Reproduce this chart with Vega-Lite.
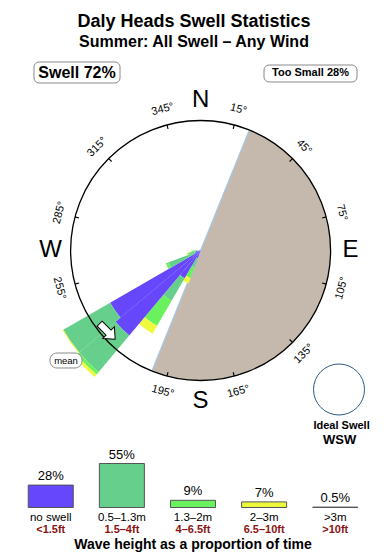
{
  "$schema": "https://vega.github.io/schema/vega-lite/v6.json",
  "padding": 0,
  "background": "white",
  "bounds": "flush",
  "spacing": 0,
  "config": {"view": {"stroke": null}, "font": "Liberation Sans", "axis": {"disable": true}},
  "vconcat": [
    {
      "width": 390,
      "height": 455,
      "layer": [
        {
          "data": {"values": [{"zone": "land shadow", "from": 22, "to": 202}]},
          "mark": {"type": "arc", "color": "#c5b9ad"},
          "encoding": {
            "x": {"datum": 0, "type": "quantitative", "scale": {"domain": [-1.5431, 1.4569], "nice": false, "zero": false}, "axis": null},
            "y": {"datum": 0, "type": "quantitative", "scale": {"domain": [-1.5731, 1.9269], "nice": false, "zero": false}, "axis": null},
            "theta": {"field": "from", "type": "quantitative", "scale": {"domain": [0, 360], "range": [0, 6.283185307]}, "stack": null},
            "theta2": {"field": "to"},
            "radius": {"datum": 25, "type": "quantitative", "scale": {"type": "linear", "domain": [0, 25], "range": [0, 130], "zero": true}},
            "radius2": {"datum": 0}
          }
        },
        {
          "data": {"values": [{}]},
          "mark": {"type": "rule", "color": "#a5c8ea", "strokeWidth": 1.2},
          "encoding": {
            "x": {"datum": 0.3746, "type": "quantitative", "scale": {"domain": [-1.5431, 1.4569], "nice": false, "zero": false}},
            "y": {"datum": 0.9272, "type": "quantitative", "scale": {"domain": [-1.5731, 1.9269], "nice": false, "zero": false}},
            "x2": {"datum": -0.3746},
            "y2": {"datum": -0.9272}
          }
        },
        {
          "data": {"values": [
            {"from": 200, "to": 210, "band": "no swell", "inner": 0, "outer": 1.54},
            {"from": 200, "to": 210, "band": "0.5–1.3m", "inner": 1.54, "outer": 3.46},
            {"from": 200, "to": 210, "band": "1.3–2m", "inner": 3.46, "outer": 5.58},
            {"from": 200, "to": 210, "band": "2–3m", "inner": 5.58, "outer": 6.73},
            {"from": 210, "to": 220, "band": "no swell", "inner": 0, "outer": 6.15},
            {"from": 210, "to": 220, "band": "0.5–1.3m", "inner": 6.15, "outer": 11.15},
            {"from": 210, "to": 220, "band": "1.3–2m", "inner": 11.15, "outer": 16.73},
            {"from": 210, "to": 220, "band": "2–3m", "inner": 16.73, "outer": 18.46},
            {"from": 220, "to": 230, "band": "no swell", "inner": 0, "outer": 21.35},
            {"from": 220, "to": 230, "band": "0.5–1.3m", "inner": 21.35, "outer": 30.48},
            {"from": 220, "to": 230, "band": "1.3–2m", "inner": 30.48, "outer": 31.15},
            {"from": 220, "to": 230, "band": "2–3m", "inner": 31.15, "outer": 31.73},
            {"from": 230, "to": 240, "band": "no swell", "inner": 0, "outer": 20.1},
            {"from": 230, "to": 240, "band": "0.5–1.3m", "inner": 20.1, "outer": 30.48},
            {"from": 230, "to": 240, "band": "2–3m", "inner": 30.48, "outer": 30.67},
            {"from": 240, "to": 250, "band": "no swell", "inner": 0, "outer": 1.15},
            {"from": 240, "to": 250, "band": "0.5–1.3m", "inner": 1.15, "outer": 6.54},
            {"from": 240, "to": 250, "band": "1.3–2m", "inner": 6.54, "outer": 7.12},
            {"from": 250, "to": 260, "band": "no swell", "inner": 0, "outer": 0.96},
            {"from": 250, "to": 260, "band": "0.5–1.3m", "inner": 0.96, "outer": 2.12},
            {"from": 250, "to": 260, "band": "1.3–2m", "inner": 2.12, "outer": 2.5},
            {"from": 250, "to": 260, "band": "2–3m", "inner": 2.5, "outer": 2.69},
            {"from": 260, "to": 270, "band": "0.5–1.3m", "inner": 0, "outer": 1.35},
            {"from": 260, "to": 270, "band": "1.3–2m", "inner": 1.35, "outer": 1.73},
            {"from": 260, "to": 270, "band": "2–3m", "inner": 1.73, "outer": 1.92}
          ]},
          "mark": {"type": "arc"},
          "encoding": {
            "x": {"datum": 0, "type": "quantitative", "scale": {"domain": [-1.5431, 1.4569], "nice": false, "zero": false}},
            "y": {"datum": 0, "type": "quantitative", "scale": {"domain": [-1.5731, 1.9269], "nice": false, "zero": false}},
            "theta": {"field": "from", "type": "quantitative", "scale": {"domain": [0, 360], "range": [0, 6.283185307]}, "stack": null},
            "theta2": {"field": "to"},
            "radius": {"field": "outer", "type": "quantitative", "scale": {"type": "linear", "domain": [0, 25], "range": [0, 130], "zero": true}, "stack": null},
            "radius2": {"field": "inner"},
            "color": {"field": "band", "type": "nominal", "scale": {"domain": ["no swell", "0.5–1.3m", "1.3–2m", "2–3m", ">3m"], "range": ["#6647fb", "#66cf8c", "#6af25e", "#eef83c", "#c9b2a6"]}, "legend": null}
          }
        },
        {
          "data": {"values": [{}]},
          "mark": {"type": "point", "shape": "circle", "filled": false, "color": "black", "strokeWidth": 1.3, "size": 67600, "opacity": 1},
          "encoding": {
            "x": {"datum": 0, "type": "quantitative", "scale": {"domain": [-1.5431, 1.4569], "nice": false, "zero": false}},
            "y": {"datum": 0, "type": "quantitative", "scale": {"domain": [-1.5731, 1.9269], "nice": false, "zero": false}}
          }
        },
        {
          "data": {"values": [
            {"deg": 15, "label": "15°"}, {"deg": 45, "label": "45°"}, {"deg": 75, "label": "75°"},
            {"deg": 105, "label": "105°"}, {"deg": 135, "label": "135°"}, {"deg": 165, "label": "165°"},
            {"deg": 195, "label": "195°"}, {"deg": 255, "label": "255°"}, {"deg": 285, "label": "285°"},
            {"deg": 315, "label": "315°"}, {"deg": 345, "label": "345°"}
          ]},
          "layer": [
            {
              "mark": {"type": "arc", "color": "black", "thetaOffset": -0.0045, "theta2Offset": 0.0045},
              "encoding": {
                "x": {"datum": 0, "type": "quantitative", "scale": {"domain": [-1.5431, 1.4569], "nice": false, "zero": false}},
                "y": {"datum": 0, "type": "quantitative", "scale": {"domain": [-1.5731, 1.9269], "nice": false, "zero": false}},
                "theta": {"field": "deg", "type": "quantitative", "scale": {"domain": [0, 360], "range": [0, 6.283185307]}, "stack": null},
                "theta2": {"field": "deg"},
                "radius": {"datum": 25, "type": "quantitative", "scale": {"type": "linear", "domain": [0, 25], "range": [0, 130], "zero": true}},
                "radius2": {"datum": 24.2}
              }
            },
            {
              "mark": {"type": "text", "fontSize": 11, "align": "center", "baseline": "middle", "color": "black"},
              "encoding": {
                "x": {"datum": 0, "type": "quantitative", "scale": {"domain": [-1.5431, 1.4569], "nice": false, "zero": false}},
                "y": {"datum": 0, "type": "quantitative", "scale": {"domain": [-1.5731, 1.9269], "nice": false, "zero": false}},
                "theta": {"field": "deg", "type": "quantitative", "scale": {"domain": [0, 360], "range": [0, 6.283185307]}, "stack": null},
                "radius": {"datum": 28.1, "type": "quantitative", "scale": {"type": "linear", "domain": [0, 25], "range": [0, 130], "zero": true}},
                "angle": {"field": "deg", "type": "quantitative", "scale": {"domain": [0, 90, 90.01, 270, 270.01, 360], "range": [0, 90, -90, 90, -90, 0]}, "legend": null},
                "text": {"field": "label"}
              }
            }
          ]
        },
        {
          "data": {"values": [{"deg": 0, "c": "N"}, {"deg": 90, "c": "E"}, {"deg": 180, "c": "S"}, {"deg": 270, "c": "W"}]},
          "mark": {"type": "text", "fontSize": 24, "align": "center", "baseline": "middle", "color": "black"},
          "encoding": {
            "x": {"datum": 0, "type": "quantitative", "scale": {"domain": [-1.5431, 1.4569], "nice": false, "zero": false}},
            "y": {"datum": 0, "type": "quantitative", "scale": {"domain": [-1.5731, 1.9269], "nice": false, "zero": false}},
            "theta": {"field": "deg", "type": "quantitative", "scale": {"domain": [0, 360], "range": [0, 6.283185307]}, "stack": null},
            "radius": {"datum": 28.85, "type": "quantitative", "scale": {"type": "linear", "domain": [0, 25], "range": [0, 130], "zero": true}},
            "text": {"field": "c"}
          }
        },
        {
          "data": {"values": [{"what": "mean direction"}]},
          "mark": {"type": "point", "shape": "M-1,-0.32L0.15,-0.32L0.15,-0.75L1,0L0.15,0.75L0.15,0.32L-1,0.32Z", "filled": true, "fill": "white", "stroke": "black", "strokeWidth": 1, "size": 484, "angle": 45, "opacity": 1},
          "encoding": {
            "x": {"datum": -0.717, "type": "quantitative", "scale": {"domain": [-1.5431, 1.4569], "nice": false, "zero": false}},
            "y": {"datum": -0.623, "type": "quantitative", "scale": {"domain": [-1.5731, 1.9269], "nice": false, "zero": false}}
          }
        },
        {
          "data": {"values": [{"t": "mean"}]},
          "layer": [
            {
              "mark": {"type": "rect", "fill": "white", "stroke": "#8a8a8a", "strokeWidth": 1, "cornerRadius": 7},
              "encoding": {
                "x": {"datum": -1.1585, "type": "quantitative", "scale": {"domain": [-1.5431, 1.4569], "nice": false, "zero": false}},
                "x2": {"datum": -0.9123},
                "y": {"datum": -0.7885, "type": "quantitative", "scale": {"domain": [-1.5731, 1.9269], "nice": false, "zero": false}},
                "y2": {"datum": -0.9038}
              }
            },
            {
              "mark": {"type": "text", "fontSize": 9.5, "align": "center", "baseline": "middle", "color": "black"},
              "encoding": {
                "x": {"datum": -1.0354, "type": "quantitative", "scale": {"domain": [-1.5431, 1.4569], "nice": false, "zero": false}},
                "y": {"datum": -0.8462, "type": "quantitative", "scale": {"domain": [-1.5731, 1.9269], "nice": false, "zero": false}},
                "text": {"field": "t"}
              }
            }
          ]
        },
        {
          "data": {"values": [{"t": "Swell 72%"}]},
          "layer": [
            {
              "mark": {"type": "rect", "fill": "white", "stroke": "#8a8a8a", "strokeWidth": 1, "cornerRadius": 5},
              "encoding": {
                "x": {"datum": -1.2815, "type": "quantitative", "scale": {"domain": [-1.5431, 1.4569], "nice": false, "zero": false}},
                "x2": {"datum": -0.62},
                "y": {"datum": 1.45, "type": "quantitative", "scale": {"domain": [-1.5731, 1.9269], "nice": false, "zero": false}},
                "y2": {"datum": 1.2885}
              }
            },
            {
              "mark": {"type": "text", "fontSize": 16, "fontWeight": "bold", "align": "center", "baseline": "middle", "color": "black"},
              "encoding": {
                "x": {"datum": -0.9508, "type": "quantitative", "scale": {"domain": [-1.5431, 1.4569], "nice": false, "zero": false}},
                "y": {"datum": 1.3654, "type": "quantitative", "scale": {"domain": [-1.5731, 1.9269], "nice": false, "zero": false}},
                "text": {"field": "t"}
              }
            }
          ]
        },
        {
          "data": {"values": [{"t": "Too Small 28%"}]},
          "layer": [
            {
              "mark": {"type": "rect", "fill": "white", "stroke": "#8a8a8a", "strokeWidth": 1, "cornerRadius": 5},
              "encoding": {
                "x": {"datum": 0.4877, "type": "quantitative", "scale": {"domain": [-1.5431, 1.4569], "nice": false, "zero": false}},
                "x2": {"datum": 1.2031},
                "y": {"datum": 1.4269, "type": "quantitative", "scale": {"domain": [-1.5731, 1.9269], "nice": false, "zero": false}},
                "y2": {"datum": 1.2962}
              }
            },
            {
              "mark": {"type": "text", "fontSize": 11, "fontWeight": "bold", "align": "center", "baseline": "middle", "color": "black"},
              "encoding": {
                "x": {"datum": 0.8454, "type": "quantitative", "scale": {"domain": [-1.5431, 1.4569], "nice": false, "zero": false}},
                "y": {"datum": 1.3654, "type": "quantitative", "scale": {"domain": [-1.5731, 1.9269], "nice": false, "zero": false}},
                "text": {"field": "t"}
              }
            }
          ]
        },
        {
          "data": {"values": [{"t": "Daly Heads Swell Statistics"}]},
          "mark": {"type": "text", "fontSize": 18, "fontWeight": "bold", "align": "center", "baseline": "alphabetic", "color": "black"},
          "encoding": {
            "x": {"datum": -0.0508, "type": "quantitative", "scale": {"domain": [-1.5431, 1.4569], "nice": false, "zero": false}},
            "y": {"datum": 1.7215, "type": "quantitative", "scale": {"domain": [-1.5731, 1.9269], "nice": false, "zero": false}},
            "text": {"field": "t"}
          }
        },
        {
          "data": {"values": [{"t": "Summer: All Swell – Any Wind"}]},
          "mark": {"type": "text", "fontSize": 16, "fontWeight": "bold", "align": "center", "baseline": "alphabetic", "color": "black"},
          "encoding": {
            "x": {"datum": -0.0508, "type": "quantitative", "scale": {"domain": [-1.5431, 1.4569], "nice": false, "zero": false}},
            "y": {"datum": 1.5677, "type": "quantitative", "scale": {"domain": [-1.5731, 1.9269], "nice": false, "zero": false}},
            "text": {"field": "t"}
          }
        },
        {
          "data": {"values": [{"ideal": "WSW"}]},
          "layer": [
            {
              "mark": {"type": "point", "shape": "circle", "filled": false, "color": "#2e5a88", "strokeWidth": 1, "size": 2601, "opacity": 1},
              "encoding": {
                "x": {"datum": 1.0646, "type": "quantitative", "scale": {"domain": [-1.5431, 1.4569], "nice": false, "zero": false}},
                "y": {"datum": -1.0692, "type": "quantitative", "scale": {"domain": [-1.5731, 1.9269], "nice": false, "zero": false}}
              }
            },
            {
              "mark": {"type": "text", "text": "Ideal Swell", "fontSize": 11, "fontWeight": "bold", "align": "center", "baseline": "alphabetic", "color": "black"},
              "encoding": {
                "x": {"datum": 1.0846, "type": "quantitative", "scale": {"domain": [-1.5431, 1.4569], "nice": false, "zero": false}},
                "y": {"datum": -1.3731, "type": "quantitative", "scale": {"domain": [-1.5731, 1.9269], "nice": false, "zero": false}}
              }
            },
            {
              "mark": {"type": "text", "fontSize": 13, "fontWeight": "bold", "align": "center", "baseline": "alphabetic", "color": "black"},
              "encoding": {
                "x": {"datum": 1.0692, "type": "quantitative", "scale": {"domain": [-1.5431, 1.4569], "nice": false, "zero": false}},
                "y": {"datum": -1.4885, "type": "quantitative", "scale": {"domain": [-1.5731, 1.9269], "nice": false, "zero": false}},
                "text": {"field": "ideal"}
              }
            }
          ]
        }
      ]
    },
    {
      "width": 386,
      "height": 105,
      "data": {"values": [
        {"cat": "no swell", "feet": "<1.5ft", "pct": 28, "pctLabel": "28%"},
        {"cat": "0.5–1.3m", "feet": "1.5–4ft", "pct": 55, "pctLabel": "55%"},
        {"cat": "1.3–2m", "feet": "4–6.5ft", "pct": 9, "pctLabel": "9%"},
        {"cat": "2–3m", "feet": "6.5–10ft", "pct": 7, "pctLabel": "7%"},
        {"cat": ">3m", "feet": ">10ft", "pct": 0.5, "pctLabel": "0.5%"}
      ]},
      "encoding": {
        "x": {"field": "cat", "type": "nominal", "sort": null, "scale": {"paddingInner": 0.367, "paddingOuter": 0.397}, "axis": null}
      },
      "layer": [
        {
          "mark": {"type": "bar", "stroke": "#555555", "strokeWidth": 1},
          "encoding": {
            "y": {"field": "pct", "type": "quantitative", "scale": {"domain": [-65.625, 65.625], "nice": false, "zero": false}, "axis": null, "stack": null},
            "y2": {"datum": 0},
            "color": {"field": "cat", "type": "nominal", "scale": {"domain": ["no swell", "0.5–1.3m", "1.3–2m", "2–3m", ">3m"], "range": ["#6647fb", "#66cf8c", "#6af25e", "#eef83c", "#c9b2a6"]}, "legend": null}
          }
        },
        {
          "mark": {"type": "text", "dy": -5, "fontSize": 13, "align": "center", "baseline": "alphabetic", "color": "black"},
          "encoding": {
            "y": {"field": "pct", "type": "quantitative", "scale": {"domain": [-65.625, 65.625], "nice": false, "zero": false}},
            "text": {"field": "pctLabel"}
          }
        },
        {
          "mark": {"type": "text", "dy": 13.4, "fontSize": 11.5, "align": "center", "baseline": "alphabetic", "color": "black"},
          "encoding": {
            "y": {"datum": 0, "type": "quantitative", "scale": {"domain": [-65.625, 65.625], "nice": false, "zero": false}},
            "text": {"field": "cat"}
          }
        },
        {
          "mark": {"type": "text", "dy": 25.2, "fontSize": 11, "fontWeight": "bold", "align": "center", "baseline": "alphabetic", "color": "#8b1212"},
          "encoding": {
            "y": {"datum": 0, "type": "quantitative", "scale": {"domain": [-65.625, 65.625], "nice": false, "zero": false}},
            "text": {"field": "feet"}
          }
        },
        {
          "data": {"values": [{"t": "Wave height as a proportion of time"}]},
          "mark": {"type": "text", "dy": 41.8, "fontSize": 14, "fontWeight": "bold", "align": "center", "baseline": "alphabetic", "color": "black"},
          "encoding": {
            "x": {"datum": "1.3–2m", "type": "nominal"},
            "y": {"datum": 0, "type": "quantitative", "scale": {"domain": [-65.625, 65.625], "nice": false, "zero": false}},
            "text": {"field": "t"}
          }
        }
      ]
    }
  ]
}
